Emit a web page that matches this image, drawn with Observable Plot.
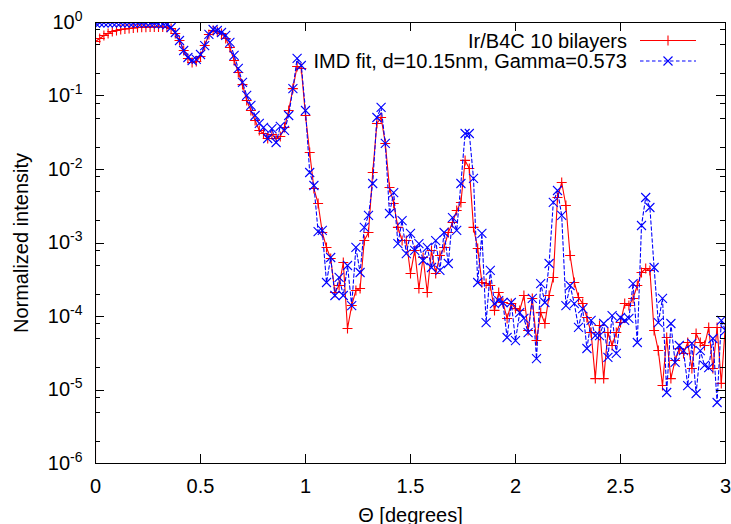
<!DOCTYPE html>
<html><head><meta charset="utf-8">
<script src="https://cdn.jsdelivr.net/npm/d3@7"></script>
<script src="https://cdn.jsdelivr.net/npm/@observablehq/plot@0.6"></script>
<style>
html,body{margin:0;padding:0;background:#fff;}
#chart svg{display:block;}
</style>
</head><body><div id="chart"></div>
<script>
const theta = [
0.00,0.02,0.04,0.06,0.08,0.10,0.12,0.14,0.16,0.18,
0.20,0.22,0.24,0.26,0.28,0.30,0.32,0.34,0.36,0.38,
0.40,0.42,0.44,0.46,0.48,0.50,0.52,0.54,0.56,0.58,
0.60,0.62,0.64,0.66,0.68,0.70,0.72,0.74,0.76,0.78,
0.80,0.82,0.84,0.86,0.88,0.90,0.92,0.94,0.96,0.98,
1.00,1.02,1.04,1.06,1.08,1.10,1.12,1.14,1.16,1.18,
1.20,1.22,1.24,1.26,1.28,1.30,1.32,1.34,1.36,1.38,
1.40,1.42,1.44,1.46,1.48,1.50,1.52,1.54,1.56,1.58,
1.60,1.62,1.64,1.66,1.68,1.70,1.72,1.74,1.76,1.78,
1.80,1.82,1.84,1.86,1.88,1.90,1.92,1.94,1.96,1.98,
2.00,2.02,2.04,2.06,2.08,2.10,2.12,2.14,2.16,2.18,
2.20,2.22,2.24,2.26,2.28,2.30,2.32,2.34,2.36,2.38,
2.40,2.42,2.44,2.46,2.48,2.50,2.52,2.54,2.56,2.58,
2.60,2.62,2.64,2.66,2.68,2.70,2.72,2.74,2.76,2.78,
2.80,2.82,2.84,2.86,2.88,2.90,2.92,2.94,2.96,2.98,
3.00];

// Ir/B4C 10 bilayers (measured)
const measured = [
0.551,0.606,0.666,0.708,0.755,0.778,0.803,0.816,0.829,0.842,
0.855,0.86,0.865,0.87,0.87,0.87,0.87,0.86,0.83,0.708,
0.569,0.416,0.324,0.286,0.295,0.345,0.486,0.687,0.778,0.755,
0.708,0.606,0.457,0.304,0.209,0.143,0.0868,0.0635,0.0464,0.034,
0.0309,0.0264,0.0299,0.0264,0.0281,0.0373,0.0635,0.126,0.252,0.237,
0.0543,0.017,0.00551,0.00345,0.00139,0.000869,0.000615,0.000212,0.000264,0.000543,
0.0000687,0.000141,0.000226,0.00024,0.00108,0.00139,0.0091,0.0423,0.051,0.0226,
0.00569,0.00345,0.00163,0.00108,0.00108,0.000385,0.000791,0.00024,0.000635,0.000212,
0.000791,0.000385,0.000676,0.000869,0.00139,0.0019,0.00277,0.00356,0.0133,0.0103,
0.00163,0.000842,0.00029,0.000281,0.000264,0.000121,0.000212,0.000155,0.000094,0.00015,
0.000128,0.000121,0.000193,0.0000645,0.000176,0.0000471,0.000113,0.0000803,0.000193,0.00034,
0.00416,0.00665,0.00324,0.000676,0.00029,0.000181,0.00015,0.0000969,0.0000605,0.0000143,
0.0000755,0.0000143,0.0000605,0.0000403,0.0000605,0.0000828,0.00015,0.000141,0.000176,0.000264,
0.000397,0.00045,0.000423,0.0000645,0.0000344,0.0000115,0.0000518,0.0000143,0.0000252,0.0000367,
0.0000314,0.0000443,0.0000196,0.0000587,0.0000443,0.0000403,0.0000709,0.0000196,0.0000709,0.0000123,
0.0000803];

// IMD fit, d=10.15nm, Gamma=0.573
const fit = [
0.98,0.99,0.99,0.99,0.99,0.99,0.99,0.99,0.99,0.98,
0.98,0.98,0.98,0.97,0.97,0.96,0.95,0.93,0.855,0.731,
0.569,0.416,0.334,0.304,0.314,0.367,0.486,0.687,0.803,0.778,
0.731,0.666,0.535,0.356,0.237,0.153,0.102,0.0743,0.0543,0.0423,
0.0373,0.0264,0.0361,0.0233,0.0385,0.034,0.0543,0.126,0.324,0.26,
0.0635,0.0091,0.00606,0.00143,0.00148,0.00029,0.000635,0.000193,0.00034,0.000193,
0.000494,0.000141,0.000869,0.000397,0.00163,0.00237,0.00645,0.051,0.0698,0.0226,
0.00252,0.00486,0.000984,0.00202,0.000719,0.00135,0.000791,0.000984,0.000578,0.000869,
0.000464,0.00108,0.000423,0.00139,0.000526,0.00222,0.00148,0.00645,0.0309,0.0309,
0.00755,0.00029,0.00135,0.0000828,0.000423,0.00015,0.000165,0.000155,0.0000518,0.000155,
0.0000471,0.000113,0.000094,0.0000605,0.000176,0.0000268,0.000281,0.000155,0.000526,0.00356,
0.00518,0.00237,0.000141,0.000264,0.00015,0.0000709,0.000128,0.0000367,0.0000883,0.0000551,
0.0000551,0.0000803,0.0000277,0.000103,0.0000314,0.0000969,0.0000883,0.000094,0.000281,0.0000443,
0.00173,0.00416,0.00304,0.000464,0.0000828,0.000176,0.00000925,0.0000803,0.0000237,0.0000403,
0.0000344,0.0000115,0.000043,0.00000896,0.0000344,0.0000216,0.0000202,0.0000502,0.00000676,0.0000883,
0.0000645];

// the measured curve starts from below the plot floor at theta = 0
const measuredLeadIn = [{theta: 0, value: 1e-9}];

const seriesNames = ["Ir/B4C 10 bilayers", "IMD fit, d=10.15nm, Gamma=0.573"];
const seriesColors = ["#ff0000", "#0000ff"];
const xTicks = [0, 0.5, 1, 1.5, 2, 2.5, 3];
const xTickLabels = ["0", "0.5", "1", "1.5", "2", "2.5", "3"];
const yTicks = [1e-6, 1e-5, 1e-4, 1e-3, 1e-2, 1e-1, 1];
const yTickLabels = ["10^-6", "10^-5", "10^-4", "10^-3", "10^-2", "10^-1", "10^0"];
const yMinorMultipliers = [2, 5, 8];
const xLabel = "\u0398 [degrees]";
const yLabel = "Normalized intensity";

const measuredData = theta.map((t, i) => ({theta: t, value: measured[i]}));
const fitData = theta.map((t, i) => ({theta: t, value: fit[i]}));

const W = 731, H = 524, mL = 95, mR = 6, mT = 22, mB = 61;
const FONT = "'Liberation Sans', Arial, Helvetica, sans-serif";

const plusSym = {draw(ctx, size) { const r = Math.sqrt(size / Math.PI); ctx.moveTo(-r, 0); ctx.lineTo(r, 0); ctx.moveTo(0, -r); ctx.lineTo(0, r); }};
const timesSym = {draw(ctx, size) { const r = Math.sqrt(size / Math.PI); ctx.moveTo(-r, -r); ctx.lineTo(r, r); ctx.moveTo(-r, r); ctx.lineTo(r, -r); }};

const chart = Plot.plot({
  width: W, height: H,
  marginLeft: mL, marginRight: mR, marginTop: mT, marginBottom: mB,
  style: {fontFamily: FONT, fontSize: "20px", color: "#000", background: "#fff", overflow: "visible"},
  x: {domain: [0, 3]},
  y: {type: "log", domain: [1e-6, 1]},
  marks: [
    Plot.line(measuredLeadIn.concat(measuredData), {x: "theta", y: "value", stroke: seriesColors[0], strokeWidth: 1.1, clip: true}),
    Plot.dot(measuredData, {x: "theta", y: "value", symbol: plusSym, r: 5, stroke: seriesColors[0], fill: "none", strokeWidth: 1.1, clip: true}),
    Plot.line(fitData, {x: "theta", y: "value", stroke: seriesColors[1], strokeWidth: 1.1, strokeDasharray: "3.5,2.5", clip: true}),
    Plot.dot(fitData, {x: "theta", y: "value", symbol: timesSym, r: 4.5, stroke: seriesColors[1], fill: "none", strokeWidth: 1.1, clip: true}),
    Plot.frame({stroke: "#000", strokeWidth: 1}),
    Plot.axisX(xTicks, {tickSize: 0, tickPadding: 15, tickFormat: d => xTickLabels[xTicks.indexOf(d)],
      label: xLabel, labelAnchor: "center", labelOffset: 58, labelArrow: "none"}),
    Plot.axisY(yTicks, {tickSize: 0, tickPadding: 13, tickFormat: d => yTickLabels[yTicks.indexOf(d)],
      label: yLabel, labelAnchor: "center", labelOffset: 82, labelArrow: "none"})
  ]
});
document.getElementById("chart").appendChild(chart);

const svgEl = chart.tagName.toLowerCase() === "svg" ? chart : chart.querySelector("svg");
const svg = d3.select(svgEl);

// superscript exponents
svgEl.querySelectorAll('g[aria-label="y-axis tick label"] text').forEach(t => {
  const s = t.textContent;
  const parts = s.split("^");
  if (parts.length !== 2) return;
  t.textContent = "";
  const ns = "http://www.w3.org/2000/svg";
  const a = document.createElementNS(ns, "tspan"); a.textContent = parts[0]; t.appendChild(a);
  const b = document.createElementNS(ns, "tspan"); b.textContent = parts[1];
  b.setAttribute("dy", "-8"); b.setAttribute("font-size", "14"); t.appendChild(b);
});

// inner tick marks on all four sides, through the plot's scales
const sx = chart.scale("x"), sy = chart.scale("y");
const fx = sx.apply ? v => sx.apply(v) : d3.scaleLinear(sx.domain, sx.range);
const fy = sy.apply ? v => sy.apply(v) : d3.scaleLog(sy.domain, sy.range);
const frameTop = mT, frameBottom = H - mB, frameLeft = mL, frameRight = W - mR;
const tg = svg.append("g").attr("stroke", "#000").attr("stroke-width", 1).attr("fill", "none");
const majorLen = 9, minorLen = 5;
xTicks.forEach(v => {
  const x = Math.round(fx(v)) + 0.5;
  tg.append("line").attr("x1", x).attr("x2", x).attr("y1", frameBottom).attr("y2", frameBottom - majorLen);
  tg.append("line").attr("x1", x).attr("x2", x).attr("y1", frameTop).attr("y2", frameTop + majorLen);
});
yTicks.forEach(v => {
  const y = Math.round(fy(v)) + 0.5;
  tg.append("line").attr("x1", frameLeft).attr("x2", frameLeft + majorLen).attr("y1", y).attr("y2", y);
  tg.append("line").attr("x1", frameRight).attr("x2", frameRight - majorLen).attr("y1", y).attr("y2", y);
});
yTicks.slice(0, -1).forEach(v => {
  yMinorMultipliers.forEach(m => {
    const y = Math.round(fy(v * m)) + 0.5;
    tg.append("line").attr("x1", frameLeft).attr("x2", frameLeft + minorLen).attr("y1", y).attr("y2", y);
    tg.append("line").attr("x1", frameRight).attr("x2", frameRight - minorLen).attr("y1", y).attr("y2", y);
  });
});

// legend (top right, inside the frame)
const lg = svg.append("g").attr("font-family", FONT).attr("font-size", 20);
const rows = [
  {name: seriesNames[0], color: seriesColors[0], dash: null, sym: "plus", y: 40.5},
  {name: seriesNames[1], color: seriesColors[1], dash: "3.5,2.5", sym: "times", y: 61}
];
rows.forEach(r => {
  lg.append("text").attr("x", 627).attr("y", r.y).attr("dy", "0.35em").attr("text-anchor", "end").attr("fill", "#000").text(r.name);
  const ln = lg.append("line").attr("x1", 640).attr("x2", 696).attr("y1", r.y).attr("y2", r.y).attr("stroke", r.color).attr("stroke-width", 1.1);
  if (r.dash) ln.attr("stroke-dasharray", r.dash);
  const p = r.sym === "plus" ? "M663," + r.y + "h10M668," + (r.y - 5) + "v10" : "M663.5," + (r.y - 4.5) + "l9,9M663.5," + (r.y + 4.5) + "l9,-9";
  lg.append("path").attr("d", p).attr("stroke", r.color).attr("fill", "none").attr("stroke-width", 1.1);
});
</script>
</body></html>
